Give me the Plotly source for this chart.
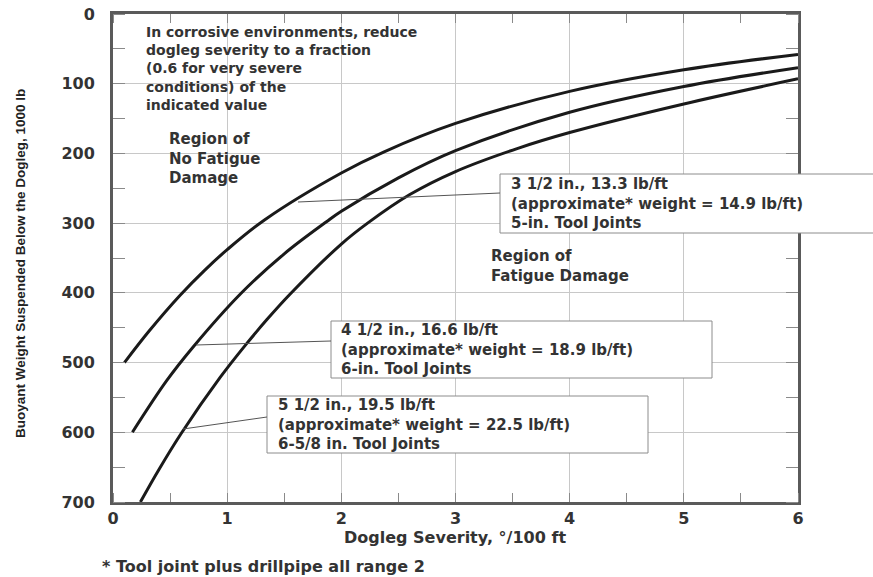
import plotly.graph_objects as go

# ---------------- data ----------------
x_3_5 = [0.10, 0.32, 0.59, 0.80, 1.00, 1.33, 2.00, 2.37, 3.00, 4.00, 5.00, 6.00]
y_3_5 = [500, 454, 403, 368, 338, 295, 228, 198, 157, 111, 80, 58]

x_4_5 = [0.17, 0.47, 0.70, 1.12, 1.50, 1.87, 2.00, 2.50, 3.00, 4.00, 5.00, 6.00]
y_4_5 = [600, 526, 478, 401, 344, 298, 283, 235, 196, 141, 104, 77]

x_5_5 = [0.24, 0.40, 0.60, 0.94, 1.16, 1.35, 1.55, 2.00, 2.23, 2.60, 3.00, 3.54, 4.00, 5.00, 6.00]
y_5_5 = [700, 654, 601, 521, 475, 438, 402, 330, 300, 259, 226, 193, 170, 129, 93]

x_ticks = [0, 1, 2, 3, 4, 5, 6]
y_ticks = [0, 100, 200, 300, 400, 500, 600, 700]

corrosive_lines = ["In corrosive environments, reduce", "dogleg severity to a fraction",
                   "(0.6 for very severe", "conditions) of the", "indicated value"]
no_fatigue_lines = ["Region of", "No Fatigue", "Damage"]
fatigue_lines = ["Region of", "Fatigue Damage"]
box_a_lines = ["3 1/2 in., 13.3 lb/ft", "(approximate* weight = 14.9 lb/ft)", "5-in. Tool Joints"]
box_b_lines = ["4 1/2 in., 16.6 lb/ft", "(approximate* weight = 18.9 lb/ft)", "6-in. Tool Joints"]
box_c_lines = ["5 1/2 in., 19.5 lb/ft", "(approximate* weight = 22.5 lb/ft)", "6-5/8 in. Tool Joints"]
x_title = "Dogleg Severity, °/100 ft"
y_title = "Buoyant Weight Suspended Below the Dogleg, 1000 lb"
footnote = "* Tool joint plus drillpipe all range 2"

# ---------------- layout helpers ----------------
W, H = 873, 577
L, R, T, B = 113, 798, 14, 502


def px(xp):
    return (xp - L) / (R - L)


def py(yp):
    return (B - yp) / (B - T)


TXT = "#333333"
FONT = "DejaVu Sans"

fig = go.Figure()
for xs, ys in [(x_3_5, y_3_5), (x_4_5, y_4_5), (x_5_5, y_5_5)]:
    fig.add_trace(go.Scatter(x=xs, y=ys, mode="lines",
                             line=dict(color="#1a1a1a", width=3, shape="spline", smoothing=1.0),
                             hoverinfo="skip"))

axis_common = dict(showgrid=True, gridcolor="#c8c8c8", gridwidth=1,
                   showline=True, linecolor="#5a5a5a", linewidth=3, mirror="ticks",
                   ticks="", zeroline=False, automargin=False,
                   tickfont=dict(family=FONT, size=16, color=TXT, weight="bold"))

fig.update_layout(
    template="none",
    width=W, height=H,
    margin=dict(l=L, r=W - R, t=T, b=H - B, autoexpand=False),
    plot_bgcolor="white", paper_bgcolor="white", showlegend=False,
    xaxis=dict(range=[0, 6], tickvals=x_ticks, ticktext=[str(v) for v in x_ticks],
               minor=dict(dtick=0.5, tick0=0, ticks="inside", ticklen=9,
                          tickcolor="#8a8a8a", tickwidth=1, showgrid=False),
               ticklabelstandoff=0, **axis_common),
    yaxis=dict(range=[700, 0], tickvals=y_ticks, ticktext=[str(v) for v in y_ticks],
               minor=dict(dtick=50, tick0=0, ticks="inside", ticklen=12,
                          tickcolor="#8a8a8a", tickwidth=1, showgrid=False),
               ticklabelstandoff=12, **axis_common),
)

shapes = []
# white backgrounds hiding the grid behind free text
for (x0, y0, x1, y1) in [(135, 22, 522, 78), (135, 78, 385, 115),
                         (132, 128, 300, 188), (485, 245, 625, 287)]:
    shapes.append(dict(type="rect", xref="paper", yref="paper",
                       x0=px(x0), x1=px(x1), y0=py(y0), y1=py(y1),
                       fillcolor="white", line=dict(width=0), layer="between"))
# boxed labels
for (x0, y0, x1, y1) in [(500, 174, 885, 233), (331, 321, 712, 378), (267, 396, 648, 453)]:
    shapes.append(dict(type="rect", xref="paper", yref="paper",
                       x0=px(x0), x1=px(x1), y0=py(y0), y1=py(y1),
                       fillcolor="white", line=dict(color="#8c8c8c", width=1), layer="above"))
# leader lines
for (x0, y0, x1, y1) in [(298, 202, 500, 193), (196, 345, 331, 341), (183, 429, 267, 417)]:
    shapes.append(dict(type="line", xref="paper", yref="paper",
                       x0=px(x0), x1=px(x1), y0=py(y0), y1=py(y1),
                       line=dict(color="#555555", width=1), layer="above"))
fig.update_layout(shapes=shapes)

annotations = []


def add_block(lines, x_left, y_mid, size=15):
    annotations.append(dict(text="<br>".join(lines), xref="paper", yref="paper",
                            x=px(x_left), y=py(y_mid), xanchor="left", yanchor="middle",
                            align="left", showarrow=False, borderpad=0,
                            font=dict(family=FONT, size=size, color=TXT, weight="bold")))


add_block(corrosive_lines, 145, 68.5, size=14)
add_block(no_fatigue_lines, 168, 158)
add_block(fatigue_lines, 490, 266)
add_block(box_a_lines, 510, 203.5)
add_block(box_b_lines, 340, 349.5)
add_block(box_c_lines, 277, 424.5)

annotations.append(dict(text=x_title, xref="paper", yref="paper", x=px(455), y=py(537),
                        xanchor="center", yanchor="middle", showarrow=False,
                        font=dict(family=FONT, size=16, color=TXT, weight="bold")))
annotations.append(dict(text=footnote, xref="paper", yref="paper", x=px(100), y=py(566),
                        xanchor="left", yanchor="middle", showarrow=False,
                        font=dict(family=FONT, size=16, color=TXT, weight="bold")))
annotations.append(dict(text=y_title, xref="paper", yref="paper", x=px(20), y=py(264),
                        xanchor="center", yanchor="middle", showarrow=False, textangle=-90,
                        font=dict(family="Liberation Sans", size=13.5, color="#222222",
                                  weight="bold")))
fig.update_layout(annotations=annotations)

fig.write_html("out.html")
